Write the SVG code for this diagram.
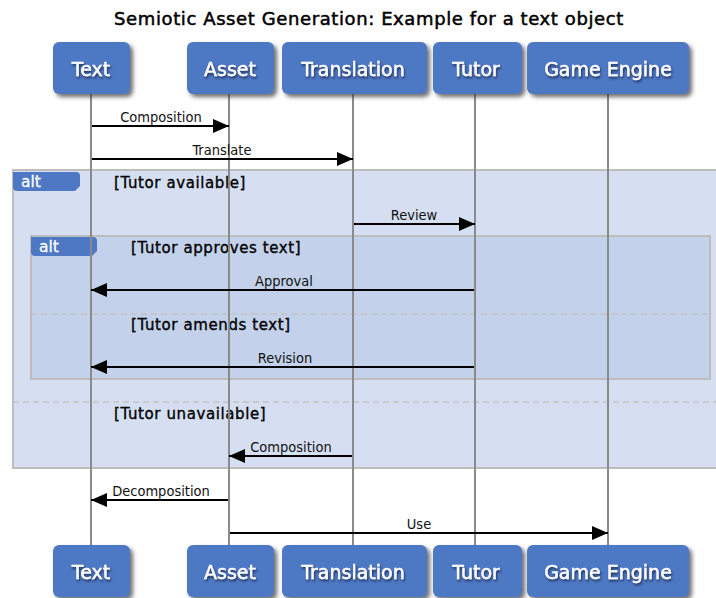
<svg xmlns="http://www.w3.org/2000/svg" width="716" height="598" viewBox="0 0 716 598">
  <defs>
    <filter id="boxShadow" x="-20%" y="-20%" width="150%" height="150%">
      <feGaussianBlur in="SourceAlpha" stdDeviation="2"/>
      <feOffset dx="3" dy="3" result="b"/>
      <feFlood flood-color="#333" flood-opacity="0.7"/>
      <feComposite in2="b" operator="in"/>
      <feMerge><feMergeNode/><feMergeNode in="SourceGraphic"/></feMerge>
    </filter>
    <filter id="textShadow" x="-20%" y="-30%" width="150%" height="170%">
      <feGaussianBlur in="SourceAlpha" stdDeviation="1.2"/>
      <feOffset dx="1" dy="1.5" result="b"/>
      <feFlood flood-color="#1a2a50" flood-opacity="0.9"/>
      <feComposite in2="b" operator="in"/>
      <feMerge><feMergeNode/><feMergeNode in="SourceGraphic"/></feMerge>
    </filter>
    <marker id="arrow" viewBox="0 0 16 14" refX="16" refY="7" markerWidth="16" markerHeight="14" markerUnits="userSpaceOnUse" orient="auto">
      <path d="M0,0 L16,7 L0,14 Z" fill="#000"/>
    </marker>
  </defs>
  <style>
    .title { font-family: "DejaVu Sans", sans-serif; font-size: 18px; letter-spacing: 0.6px; fill: #000; stroke: #000; stroke-width: 0.5px; text-anchor: middle; }
    .box { fill: #4e78c4; }
    .boxlabel { font-family: "DejaVu Sans", sans-serif; font-size: 19px; fill: #fff; stroke: #fff; stroke-width: 0.4px; text-anchor: middle; }
    .lifeline { stroke: #8a8a8a; stroke-width: 2; }
    .msg { stroke: #000; stroke-width: 2; fill: none; marker-end: url(#arrow); }
    .msglabel { font-family: "DejaVu Sans Condensed", "DejaVu Sans", sans-serif; font-size: 14.5px; fill: #111; text-anchor: middle; }
    .frameOuter { fill: #d5dff1; stroke: #bdbdbd; stroke-width: 2; }
    .frameInner { fill: #c3d1ea; stroke: #bdbdbd; stroke-width: 2; }
    .sep { stroke: #c4c4c4; stroke-width: 1.5; stroke-dasharray: 6 4; }
    .tab { fill: #4e78c4; }
    .tablabel { font-family: "DejaVu Sans", sans-serif; font-size: 15.5px; fill: #fff; stroke: #fff; stroke-width: 0.3px; }
    .guard { font-family: "DejaVu Sans", sans-serif; font-size: 15px; letter-spacing: 0.6px; fill: #000; stroke: #000; stroke-width: 0.35px; }
  </style>

  <rect width="716" height="598" fill="#fff"/>

  <text class="title" x="369" y="25">Semiotic Asset Generation: Example for a text object</text>

  <!-- combined fragments -->
  <g id="alt-outer">
    <rect class="frameOuter" x="13" y="170" width="712" height="298"/>
    <line class="sep" x1="13" y1="402" x2="716" y2="402"/>
    <path class="tab" d="M13,172 H76 Q80,172 80,176 V186 L75,191 H17 Q13,191 13,187 Z"/>
    <text class="tablabel" x="21" y="187">alt</text>
    <text class="guard" x="114" y="188">[Tutor available]</text>
    <text class="guard" x="114" y="419">[Tutor unavailable]</text>
  </g>
  <g id="alt-inner">
    <rect class="frameInner" x="31" y="236" width="679" height="143"/>
    <line class="sep" x1="31" y1="314" x2="710" y2="314"/>
    <path class="tab" d="M31,237 H93 Q97,237 97,241 V251 L92,256 H35 Q31,256 31,252 Z"/>
    <text class="tablabel" x="39" y="252">alt</text>
    <text class="guard" x="131" y="253">[Tutor approves text]</text>
    <text class="guard" x="131" y="330">[Tutor amends text]</text>
  </g>

  <!-- lifelines -->
  <g id="lifelines">
    <line class="lifeline" x1="91" y1="94" x2="91" y2="545"/>
    <line class="lifeline" x1="229" y1="94" x2="229" y2="545"/>
    <line class="lifeline" x1="353" y1="94" x2="353" y2="545"/>
    <line class="lifeline" x1="475" y1="94" x2="475" y2="545"/>
    <line class="lifeline" x1="608" y1="94" x2="608" y2="545"/>
  </g>

  <!-- participants, top -->
  <g id="text-top" filter="url(#boxShadow)">
    <rect class="box" x="53" y="42" width="77" height="52" rx="6"/>
    <text class="boxlabel" x="91" y="76" filter="url(#textShadow)">Text</text>
  </g>
  <g id="asset-top" filter="url(#boxShadow)">
    <rect class="box" x="187" y="42" width="87" height="52" rx="6"/>
    <text class="boxlabel" x="230" y="76" filter="url(#textShadow)">Asset</text>
  </g>
  <g id="translation-top" filter="url(#boxShadow)">
    <rect class="box" x="282" y="42" width="145" height="52" rx="6"/>
    <text class="boxlabel" x="353" y="76" filter="url(#textShadow)">Translation</text>
  </g>
  <g id="tutor-top" filter="url(#boxShadow)">
    <rect class="box" x="433" y="42" width="89" height="52" rx="6"/>
    <text class="boxlabel" x="476" y="76" filter="url(#textShadow)">Tutor</text>
  </g>
  <g id="engine-top" filter="url(#boxShadow)">
    <rect class="box" x="527" y="42" width="162" height="52" rx="6"/>
    <text class="boxlabel" x="608" y="76" filter="url(#textShadow)">Game Engine</text>
  </g>

  <!-- participants, bottom -->
  <g id="text-bottom" filter="url(#boxShadow)">
    <rect class="box" x="53" y="545" width="77" height="52" rx="6"/>
    <text class="boxlabel" x="91" y="579" filter="url(#textShadow)">Text</text>
  </g>
  <g id="asset-bottom" filter="url(#boxShadow)">
    <rect class="box" x="187" y="545" width="87" height="52" rx="6"/>
    <text class="boxlabel" x="230" y="579" filter="url(#textShadow)">Asset</text>
  </g>
  <g id="translation-bottom" filter="url(#boxShadow)">
    <rect class="box" x="282" y="545" width="145" height="52" rx="6"/>
    <text class="boxlabel" x="353" y="579" filter="url(#textShadow)">Translation</text>
  </g>
  <g id="tutor-bottom" filter="url(#boxShadow)">
    <rect class="box" x="433" y="545" width="89" height="52" rx="6"/>
    <text class="boxlabel" x="476" y="579" filter="url(#textShadow)">Tutor</text>
  </g>
  <g id="engine-bottom" filter="url(#boxShadow)">
    <rect class="box" x="527" y="545" width="162" height="52" rx="6"/>
    <text class="boxlabel" x="608" y="579" filter="url(#textShadow)">Game Engine</text>
  </g>

  <!-- messages -->
  <g id="messages">
    <line class="msg" x1="92" y1="126" x2="229" y2="126"/>
    <text class="msglabel" x="161" y="122">Composition</text>
    <line class="msg" x1="92" y1="159" x2="353" y2="159"/>
    <text class="msglabel" x="222" y="155">Translate</text>
    <line class="msg" x1="354" y1="224" x2="475" y2="224"/>
    <text class="msglabel" x="414" y="220">Review</text>
    <line class="msg" x1="474" y1="290" x2="91" y2="290"/>
    <text class="msglabel" x="284" y="286">Approval</text>
    <line class="msg" x1="474" y1="367" x2="91" y2="367"/>
    <text class="msglabel" x="285" y="363">Revision</text>
    <line class="msg" x1="352" y1="456" x2="229" y2="456"/>
    <text class="msglabel" x="291" y="452">Composition</text>
    <line class="msg" x1="228" y1="500" x2="91" y2="500"/>
    <text class="msglabel" x="161" y="496">Decomposition</text>
    <line class="msg" x1="230" y1="533" x2="608" y2="533"/>
    <text class="msglabel" x="419" y="529">Use</text>
  </g>
</svg>
